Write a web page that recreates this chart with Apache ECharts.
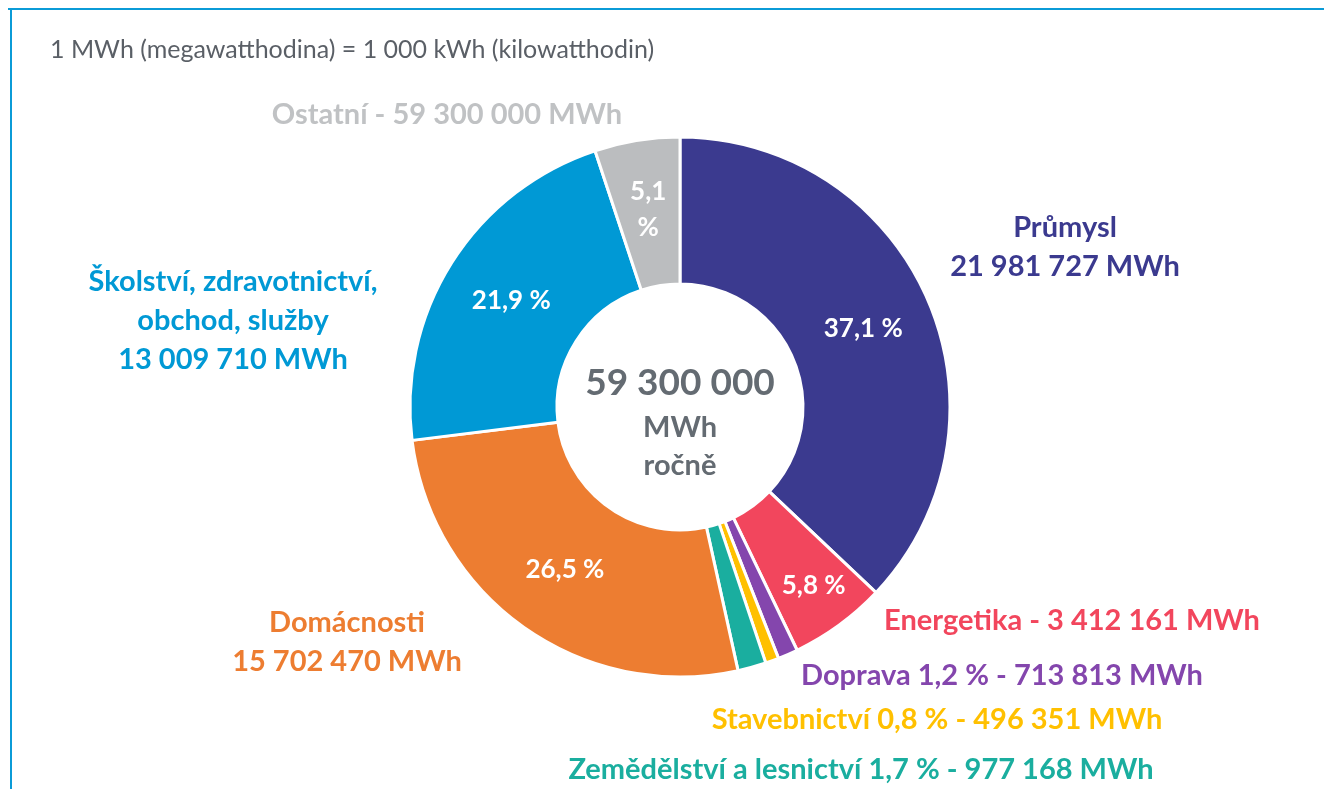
<!DOCTYPE html>
<html>
<head>
<meta charset="utf-8">
<script src="https://cdn.jsdelivr.net/npm/echarts@6/dist/echarts.min.js"></script>
<style>
  html, body { margin: 0; padding: 0; background: #fff; }
  #chart { width: 1324px; height: 789px; }
</style>
</head>
<body>
<div id="chart"></div>
<script>
// sektory, podily v % (ve smeru hodinovych rucicek od vrcholu)
var sectors = ["Průmysl", "Energetika", "Doprava", "Stavebnictví", "Zemědělství a lesnictví", "Domácnosti", "Školství, zdravotnictví, obchod, služby", "Ostatní"];
var shares = [37.1, 5.8, 1.2, 0.8, 1.7, 26.5, 21.9, 5.1];
var innerLabels = ["37,1 %", "5,8 %", "", "", "", "26,5 %", "21,9 %", "5,1\n%"];
var colors = ["#3b3a8f", "#f2465d", "#8446ad", "#ffc000", "#1aae9f", "#ed7d31", "#0099d5", "#bbbdbf"];
// popisky mimo graf
var outerLabels = [
  "Průmysl\n21 981 727 MWh",
  "Energetika - 3 412 161 MWh",
  "Doprava 1,2 % - 713 813 MWh",
  "Stavebnictví 0,8 % - 496 351 MWh",
  "Zemědělství a lesnictví 1,7 % - 977 168 MWh",
  "Domácnosti\n15 702 470 MWh",
  "Školství, zdravotnictví,\nobchod, služby\n13 009 710 MWh",
  "Ostatní - 59 300 000 MWh"
];
var labelColors = ["#3b3a8f", "#f2465d", "#8446ad", "#ffc000", "#1aae9f", "#ed7d31", "#0099d5", "#c0c2c4"];
var labelPos = [[1065, 247], [1072, 621], [1002, 676], [937, 720], [861, 770], [347, 642], [233, 321], [447, 115]];
var total = "59 300 000";
var note = "1 MWh (megawatthodina) = 1 000 kWh (kilowatthodin)";

var font = "Lato";
var myChart = echarts.init(document.getElementById("chart"));

var pieData = sectors.map(function (name, i) {
  return {
    name: name,
    value: shares[i],
    itemStyle: { color: colors[i] },
    label: { formatter: innerLabels[i] }
  };
});
// posun popisku 5,8 % kousek ven
pieData[1].label.offset = [16, 18];

var texts = outerLabels.map(function (t, i) {
  return {
    type: "text",
    x: labelPos[i][0],
    y: labelPos[i][1],
    style: {
      text: t,
      fill: labelColors[i],
      font: "bold 29px " + font,
      align: "center",
      verticalAlign: "middle",
      lineHeight: 39
    }
  };
});

var option = {
  animation: false,
  graphic: [
    { type: "rect", shape: { x: 8, y: 8, width: 1320, height: 2 }, style: { fill: "#0b9bd7" } },
    { type: "rect", shape: { x: 10, y: 8, width: 2, height: 790 }, style: { fill: "#0b9bd7" } },
    {
      type: "text", x: 50, y: 50,
      style: { text: note, fill: "#5a5f66", font: "25px " + font, verticalAlign: "middle" }
    },
    {
      type: "text", x: 680, y: 383,
      style: { text: total, fill: "#646b72", font: "bold 37px " + font, align: "center", verticalAlign: "middle" }
    },
    {
      type: "text", x: 680, y: 447,
      style: { text: "MWh\nročně", fill: "#646b72", font: "bold 29px " + font, align: "center", verticalAlign: "middle", lineHeight: 38 }
    }
  ].concat(texts),
  series: [
    {
      type: "pie",
      center: [680, 407],
      radius: [123, 270],
      startAngle: 90,
      clockwise: true,
      avoidLabelOverlap: false,
      itemStyle: { borderColor: "#fff", borderWidth: 3 },
      label: {
        show: true,
        position: "inside",
        color: "#fff",
        fontFamily: font,
        fontWeight: "bold",
        fontSize: 26,
        lineHeight: 36
      },
      labelLine: { show: false },
      emphasis: { disabled: true },
      data: pieData
    }
  ]
};

if (option && typeof option === "object") {
  myChart.setOption(option);
}
</script>
</body>
</html>
